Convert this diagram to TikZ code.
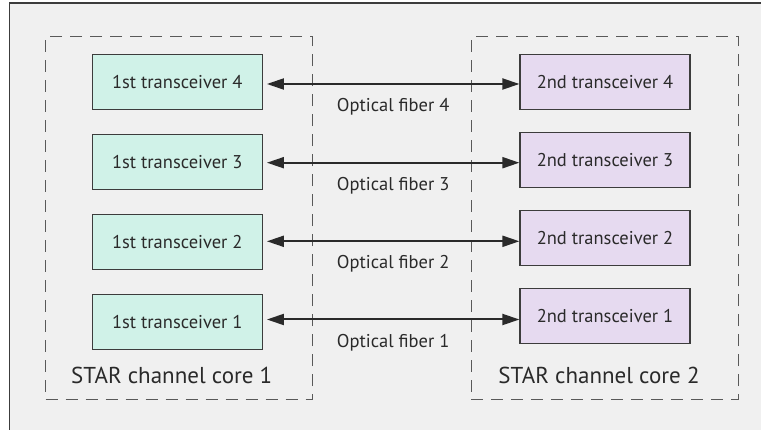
\documentclass[tikz,border=0pt]{standalone}
\usepackage{fontspec}
\setmainfont{PT Sans}
\usetikzlibrary{arrows.meta}
\definecolor{bgpanel}{HTML}{F0F0F0}
\definecolor{txgreen}{HTML}{D0F2E8}
\definecolor{rxviolet}{HTML}{E6DAF0}
\definecolor{edge}{HTML}{3C3C3C}
\definecolor{ink}{HTML}{2A2A2A}
\tikzset{
  trx/.style={draw=edge, line width=1.2pt, minimum width=170pt, minimum height=55pt,
    inner sep=0pt, font=\fontsize{18.5}{20}\selectfont, text=ink},
  first/.style={trx, fill=txgreen},
  second/.style={trx, fill=rxviolet},
  corebox/.style={draw=edge!85, line width=1pt, dash pattern=on 12pt off 8pt,
    inner sep=0pt},
  corelabel/.style={anchor=base, font=\fontsize{23}{25}\selectfont, text=ink, inner sep=0pt},
  fiber/.style={draw=ink, line width=2pt,
    {Triangle[length=17pt,width=11pt]}-{Triangle[length=17pt,width=11pt]}},
  fiberlabel/.style={anchor=base, font=\fontsize{18.5}{20}\selectfont, text=ink, inner sep=0pt}
}
\begin{document}
\begin{tikzpicture}[x=1pt,y=-1pt]
  \useasboundingbox (0,0) rectangle (761,430);
  \fill[white] (0,0) rectangle (761,430);
  % panel background with its top and left rule
  \fill[bgpanel] (9.5,3) rectangle (761,430);
  \draw[edge, line width=1.1pt] (9.5,430) -- (9.5,3) -- (761,3);

  % dashed channel-core enclosures
  \node[corebox, minimum width=267pt, minimum height=362.5pt] (core1) at (179.2,218) {};
  \node[corebox, minimum width=267pt, minimum height=362.5pt] (core2) at (604.5,218) {};
  \node[corelabel] (lab1) at (171.7,384) {STAR channel core 1};
  \node[corelabel] (lab2) at (599,384) {STAR channel core 2};

  % transceivers of core 1
  \node[first] (l4) at (177.3,82) {1st transceiver 4};
  \node[first] (l3) at (177.3,162) {1st transceiver 3};
  \node[first] (l2) at (177.3,242) {1st transceiver 2};
  \node[first] (l1) at (177.3,322) {1st transceiver 1};

  % transceivers of core 2
  \node[second] (r4) at (605,82) {2nd transceiver 4};
  \node[second] (r3) at (605,160) {2nd transceiver 3};
  \node[second] (r2) at (605,238) {2nd transceiver 2};
  \node[second] (r1) at (605,316) {2nd transceiver 1};

  % optical fiber links
  \coordinate (a4) at ([xshift=4pt,yshift=-2pt]l4.east);
  \coordinate (a3) at ([xshift=4pt,yshift=-0.7pt]l3.east);
  \coordinate (a2) at ([xshift=4pt,yshift=0.7pt]l2.east);
  \coordinate (a1) at ([xshift=4pt,yshift=2.5pt]l1.east);
  \draw[fiber] (a4) -- node[fiberlabel, yshift=-27.7pt] {Optical fiber 4} (a4 -| r4.west);
  \draw[fiber] (a3) -- node[fiberlabel, yshift=-27.7pt] {Optical fiber 3} (a3 -| r3.west);
  \draw[fiber] (a2) -- node[fiberlabel, yshift=-27.7pt] {Optical fiber 2} (a2 -| r2.west);
  \draw[fiber] (a1) -- node[fiberlabel, yshift=-27.7pt] {Optical fiber 1} (a1 -| r1.west);
\end{tikzpicture}
\end{document}
